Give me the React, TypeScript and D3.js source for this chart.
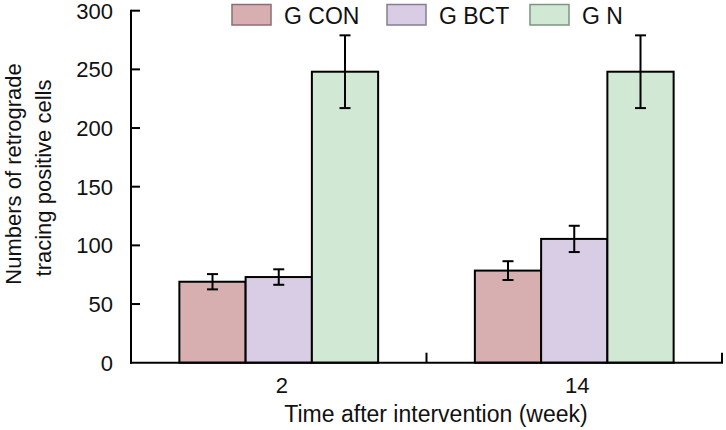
import React from "react";
import * as d3 from "d3";

const categories = ["2", "14"];
const series = ["G CON", "G BCT", "G N"];
const means = [
  [69, 73, 248],
  [78.5, 105.5, 248],
];
const errors = [
  [6.5, 6.6, 31],
  [8, 11.2, 31],
];
const yTicks = [0, 50, 100, 150, 200, 250, 300];
const fills = ["#d8afb1", "#d8cde5", "#d0e8d4"];
const swatchStroke = ["#8c6d74", "#857d92", "#7d9482"];

export default function App() {
  const W = 726, H = 430;
  const left = 131, right = 722, top = 10.7, bottom = 362.7;
  const y = d3.scaleLinear().domain([0, 300]).range([bottom, top]);
  const x = d3.scaleBand().domain(categories).range([left, right]).padding(0);
  const xs = d3.scaleBand().domain(series).range([0, x.bandwidth()]).paddingInner(0).paddingOuter(0.73);
  const font = "'Liberation Sans', Arial, sans-serif";
  const capW = 11;

  return (
    <svg width={W} height={H} style={{ position: "absolute", left: 0, top: 0, background: "#fff" }} fontFamily={font}>
      {categories.map((c, ci) =>
        series.map((s, si) => {
          const bx = (x(c) as number) + (xs(s) as number);
          const bw = xs.bandwidth();
          const v = means[ci][si];
          const e = errors[ci][si];
          const cx = bx + bw / 2;
          return (
            <g key={c + s}>
              <rect x={bx} y={y(v)} width={bw} height={y(0) - y(v)} fill={fills[si]} stroke="#000" strokeWidth={2} />
              <line x1={cx} x2={cx} y1={y(v + e)} y2={y(v - e)} stroke="#000" strokeWidth={2} />
              <line x1={cx - capW / 2} x2={cx + capW / 2} y1={y(v + e)} y2={y(v + e)} stroke="#000" strokeWidth={2} />
              <line x1={cx - capW / 2} x2={cx + capW / 2} y1={y(v - e)} y2={y(v - e)} stroke="#000" strokeWidth={2} />
            </g>
          );
        })
      )}
      <line x1={left} x2={left} y1={top - 1} y2={bottom + 1} stroke="#000" strokeWidth={2} />
      {yTicks.map((t) => (
        <g key={t}>
          {t > 0 && <line x1={left} x2={left + 9} y1={y(t)} y2={y(t)} stroke="#000" strokeWidth={2} />}
          <text x={113} y={y(t)} dy="0.36em" textAnchor="end" fontSize={22} fill="#111">{t}</text>
        </g>
      ))}
      <line x1={left - 1} x2={right + 1} y1={bottom} y2={bottom} stroke="#000" strokeWidth={2} />
      {[x("14") as number, right].map((px, i) => (
        <line key={i} x1={px} x2={px} y1={bottom} y2={bottom - 10} stroke="#000" strokeWidth={2} />
      ))}
      {categories.map((c) => (
        <text key={c} x={(x(c) as number) + x.bandwidth() / 2 + 3} y={393} textAnchor="middle" fontSize={22} fill="#111">{c}</text>
      ))}
      <text x={436} y={422} textAnchor="middle" fontSize={23} fill="#111">Time after intervention (week)</text>
      <text transform="translate(20.5,174) rotate(-90)" textAnchor="middle" fontSize={22} fill="#111">Numbers of retrograde</text>
      <text transform="translate(51,178) rotate(-90)" textAnchor="middle" fontSize={22} fill="#111">tracing positive cells</text>
      {series.map((s, i) => {
        const lx = [232, 387, 530][i];
        return (
          <g key={s}>
            <rect x={lx} y={4.5} width={39} height={20.5} fill={fills[i]} stroke={swatchStroke[i]} strokeWidth={1.5} />
            <text x={lx + 52} y={24} fontSize={23} fill="#111">{s}</text>
          </g>
        );
      })}
    </svg>
  );
}
